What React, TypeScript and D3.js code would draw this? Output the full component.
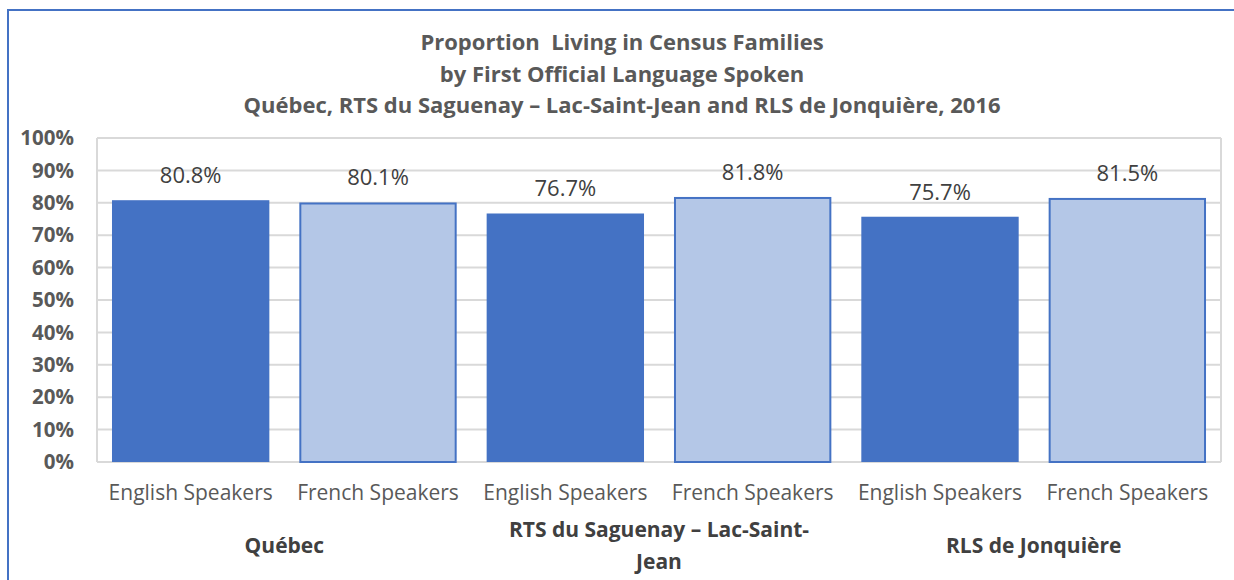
import React from 'react';
import * as d3 from 'd3';

const groups = ['Québec', 'RTS du Saguenay – Lac-Saint-Jean', 'RLS de Jonquière'];
const groupLines = [['Québec'], ['RTS du Saguenay – Lac-Saint-', 'Jean'], ['RLS de Jonquière']];
const speakers = ['English Speakers', 'French Speakers'];
const values = [80.8, 80.1, 76.7, 81.8, 75.7, 81.5];
const yTicks = [0, 10, 20, 30, 40, 50, 60, 70, 80, 90, 100];
const titleLines = [
  'Proportion  Living in Census Families',
  'by First Official Language Spoken',
  'Québec, RTS du Saguenay – Lac-Saint-Jean and RLS de Jonquière, 2016',
];

const W = 1234;
const H = 580;
const margin = { top: 138, right: 13, bottom: 118, left: 97 };
const FONT = '"Open Sans", "Noto Sans", sans-serif';

export default function App() {
  // one row per bar: group + speaker
  const rows = values.map((v, i) => ({
    key: `${i}`,
    group: groups[Math.floor(i / 2)],
    speaker: speakers[i % 2],
    value: v,
  }));

  const x = d3.scaleBand<string>()
    .domain(rows.map(d => d.key))
    .range([margin.left, W - margin.right])
    .paddingInner(0.16)
    .paddingOuter(0.08);

  const xGroup = d3.scaleBand<string>()
    .domain(groups)
    .range([margin.left, W - margin.right]);

  const y = d3.scaleLinear()
    .domain([0, 100])
    .range([H - margin.bottom, margin.top]);

  const plotRight = W - margin.right;
  const plotBottom = H - margin.bottom;

  return (
    <svg width={W} height={H} style={{ position: 'absolute', left: 0, top: 0, background: '#fff' }}>
      {/* outer chart border */}
      <rect x={8} y={10} width={W + 10} height={H + 10} fill="#fff" stroke="#4472C4" strokeWidth={2} />

      {/* title */}
      {titleLines.map((t, i) => (
        <text key={i} x={622} y={50 + i * 31.5} textAnchor="middle" fontFamily={FONT}
          fontWeight="bold" fontSize={22} fill="#595959" style={{ whiteSpace: 'pre' }}>{t}</text>
      ))}

      {/* gridlines */}
      {yTicks.map(t => (
        <line key={t} x1={margin.left} x2={plotRight} y1={y(t)} y2={y(t)} stroke="#d9d9d9" strokeWidth={2} />
      ))}
      <line x1={margin.left} x2={margin.left} y1={margin.top} y2={plotBottom} stroke="#d9d9d9" strokeWidth={2} />
      <line x1={plotRight} x2={plotRight} y1={margin.top} y2={plotBottom} stroke="#d9d9d9" strokeWidth={2} />

      {/* y tick labels */}
      {yTicks.map(t => (
        <text key={t} x={74} y={y(t)} dy="0.35em" textAnchor="end" fontFamily={FONT}
          fontWeight="bold" fontSize={20.5} fill="#595959">{`${t}%`}</text>
      ))}

      {/* bars */}
      {rows.map((d, i) => {
        const english = i % 2 === 0;
        const bx = x(d.key)!;
        const bw = x.bandwidth();
        return english ? (
          <rect key={d.key} x={bx} y={y(d.value)} width={bw} height={plotBottom - y(d.value)} fill="#4472C4" />
        ) : (
          <rect key={d.key} x={bx + 1} y={y(d.value) + 1} width={bw - 2} height={plotBottom - y(d.value) - 1}
            fill="#B4C7E7" stroke="#4472C4" strokeWidth={2} />
        );
      })}

      {/* data labels */}
      {rows.map(d => (
        <text key={d.key} x={x(d.key)! + x.bandwidth() / 2} y={y(d.value) - 17} textAnchor="middle"
          fontFamily={FONT} fontSize={22} fill="#404040">{`${d.value.toFixed(1)}%`}</text>
      ))}

      {/* speaker labels */}
      {rows.map(d => (
        <text key={d.key} x={x(d.key)! + x.bandwidth() / 2} y={500} textAnchor="middle"
          fontFamily={FONT} fontSize={21} fill="#595959">{d.speaker}</text>
      ))}

      {/* group labels */}
      {groups.map((g, gi) => {
        const lines = groupLines[gi];
        const cx = xGroup(g)! + xGroup.bandwidth() / 2;
        const y0 = lines.length > 1 ? 537 : 553;
        return lines.map((l, li) => (
          <text key={`${g}-${li}`} x={cx} y={y0 + li * 32} textAnchor="middle" fontFamily={FONT}
            fontWeight="bold" fontSize={21} fill="#404040">{l}</text>
        ));
      })}
    </svg>
  );
}
